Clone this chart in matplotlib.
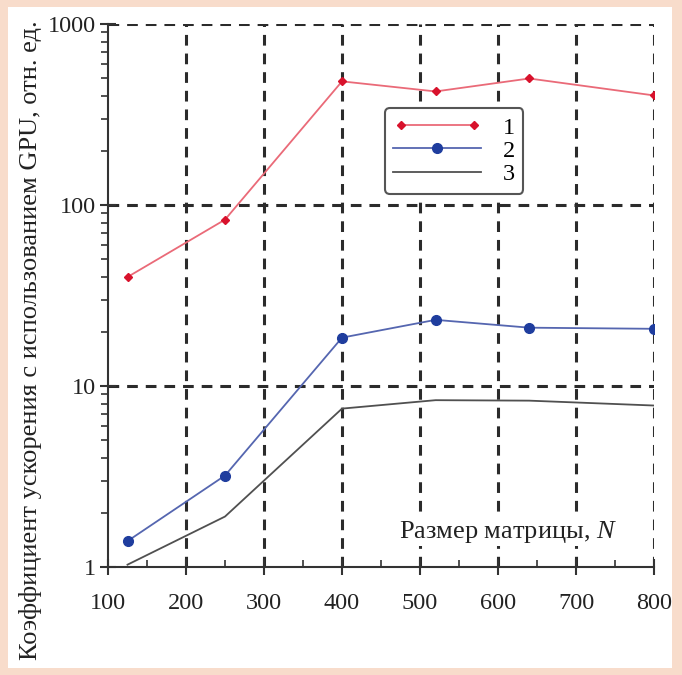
import matplotlib
matplotlib.use("Agg")
import matplotlib.pyplot as plt
from matplotlib.patches import Rectangle
from matplotlib.legend_handler import HandlerLine2D
from matplotlib.ticker import FixedLocator, NullFormatter, LogLocator

plt.rcParams['font.family'] = ['Liberation Serif', 'DejaVu Serif']
plt.rcParams['mathtext.fontset'] = 'custom'
plt.rcParams['mathtext.rm'] = 'Liberation Serif'
plt.rcParams['mathtext.it'] = 'Liberation Serif:italic'

# Data
N = [125, 250, 400, 520, 640, 800]
series1 = [40, 83, 482, 424, 500, 403]
series2 = [1.39, 3.2, 18.5, 23.2, 21.0, 20.7]
series3 = [1.03, 1.9, 7.5, 8.35, 8.3, 7.8]
labels = ['1', '2', '3']
xticks = [100, 200, 300, 400, 500, 600, 700, 800]
yticks = [1, 10, 100, 1000]
ylabel = 'Коэффициент ускорения с использованием GPU, отн. ед.'
xlabel = 'Размер матрицы, $\\mathit{N}$'

fig = plt.figure(figsize=(6.82, 6.75), dpi=100, facecolor='#f8dccb')
fig.patches.append(Rectangle((8/682, 1-668/675), (672-8)/682, (668-7)/675,
                             transform=fig.transFigure, facecolor='white',
                             edgecolor='none', zorder=-10))
ax = fig.add_axes([108/682, 1-567/675, (654-108)/682, (567-24)/675])
ax.set_zorder(1)
ax.set_facecolor('white')
ax.set_yscale('log')
ax.set_xlim(100, 800)
ax.set_ylim(1, 1000)

gridc = '#2b2b2b'
for xv in xticks[1:]:
    ax.axvline(xv, color=gridc, lw=2.2, linestyle=(0, (3.5, 2.6)), zorder=1)
for yv in yticks[1:]:
    ax.axhline(yv, color=gridc, lw=2.2, linestyle=(0, (3.5, 2.6)), zorder=1)

h1, = ax.plot(N, series1, color='#ea6a78', lw=1.3, marker='D', ms=4.5,
              mfc='#d8122c', mec='#d8122c', zorder=3)
h2, = ax.plot(N, series2, color='#5566b0', lw=1.3, marker='o', ms=7,
              mfc='#1f3d9e', mec='#1f3d9e', zorder=3)
h3, = ax.plot(N, series3, color='#505050', lw=1.3, zorder=3)

for s in ['top', 'right']:
    ax.spines[s].set_visible(False)
for s in ['left', 'bottom']:
    ax.spines[s].set_color('#333333')
    ax.spines[s].set_linewidth(1.5)

ax.xaxis.set_major_locator(FixedLocator(xticks))
ax.xaxis.set_minor_locator(FixedLocator([150, 250, 350, 450, 550, 650, 750]))
ax.set_xticklabels([str(v) for v in xticks])
ax.yaxis.set_major_locator(FixedLocator(yticks))
ax.set_yticklabels([str(v) for v in yticks])
ax.yaxis.set_minor_locator(LogLocator(base=10, subs=range(2, 10)))
ax.yaxis.set_minor_formatter(NullFormatter())

ax.tick_params(axis='both', which='major', direction='inout', length=12,
               width=1.5, color='#333333', labelsize=17.5, labelcolor='#222222')
ax.tick_params(axis='x', which='major', pad=13)
ax.tick_params(axis='y', which='major', pad=3)
ax.tick_params(axis='x', which='minor', direction='in', length=5, width=1.2,
               color='#333333')
ax.tick_params(axis='y', which='minor', direction='out', length=5, width=1.2,
               color='#333333')

fig.text(31/682, 1-340/675, ylabel, rotation=90, ha='center', va='center',
         fontsize=19, color='#222222')
ax.text(0.932, 0.065, xlabel, transform=ax.transAxes, ha='right', va='center',
        fontsize=19, color='#222222', zorder=4,
        bbox=dict(facecolor='white', edgecolor='none', pad=1))

leg = ax.legend([h1, h2, h3], labels, loc='upper left',
                bbox_to_anchor=(0.507, 0.845), borderaxespad=0, fontsize=17.5,
                handlelength=3.6, handletextpad=0.9, labelspacing=0.05,
                borderpad=0.35, frameon=True, fancybox=True,
                handler_map={h1: HandlerLine2D(numpoints=2),
                             h2: HandlerLine2D(numpoints=1),
                             h3: HandlerLine2D(numpoints=1)})
leg.get_frame().set_edgecolor('#555555')
leg.get_frame().set_linewidth(1.5)
leg.get_frame().set_alpha(1)
leg.set_zorder(5)

fig.savefig('out.png', dpi=100, facecolor=fig.get_facecolor())
